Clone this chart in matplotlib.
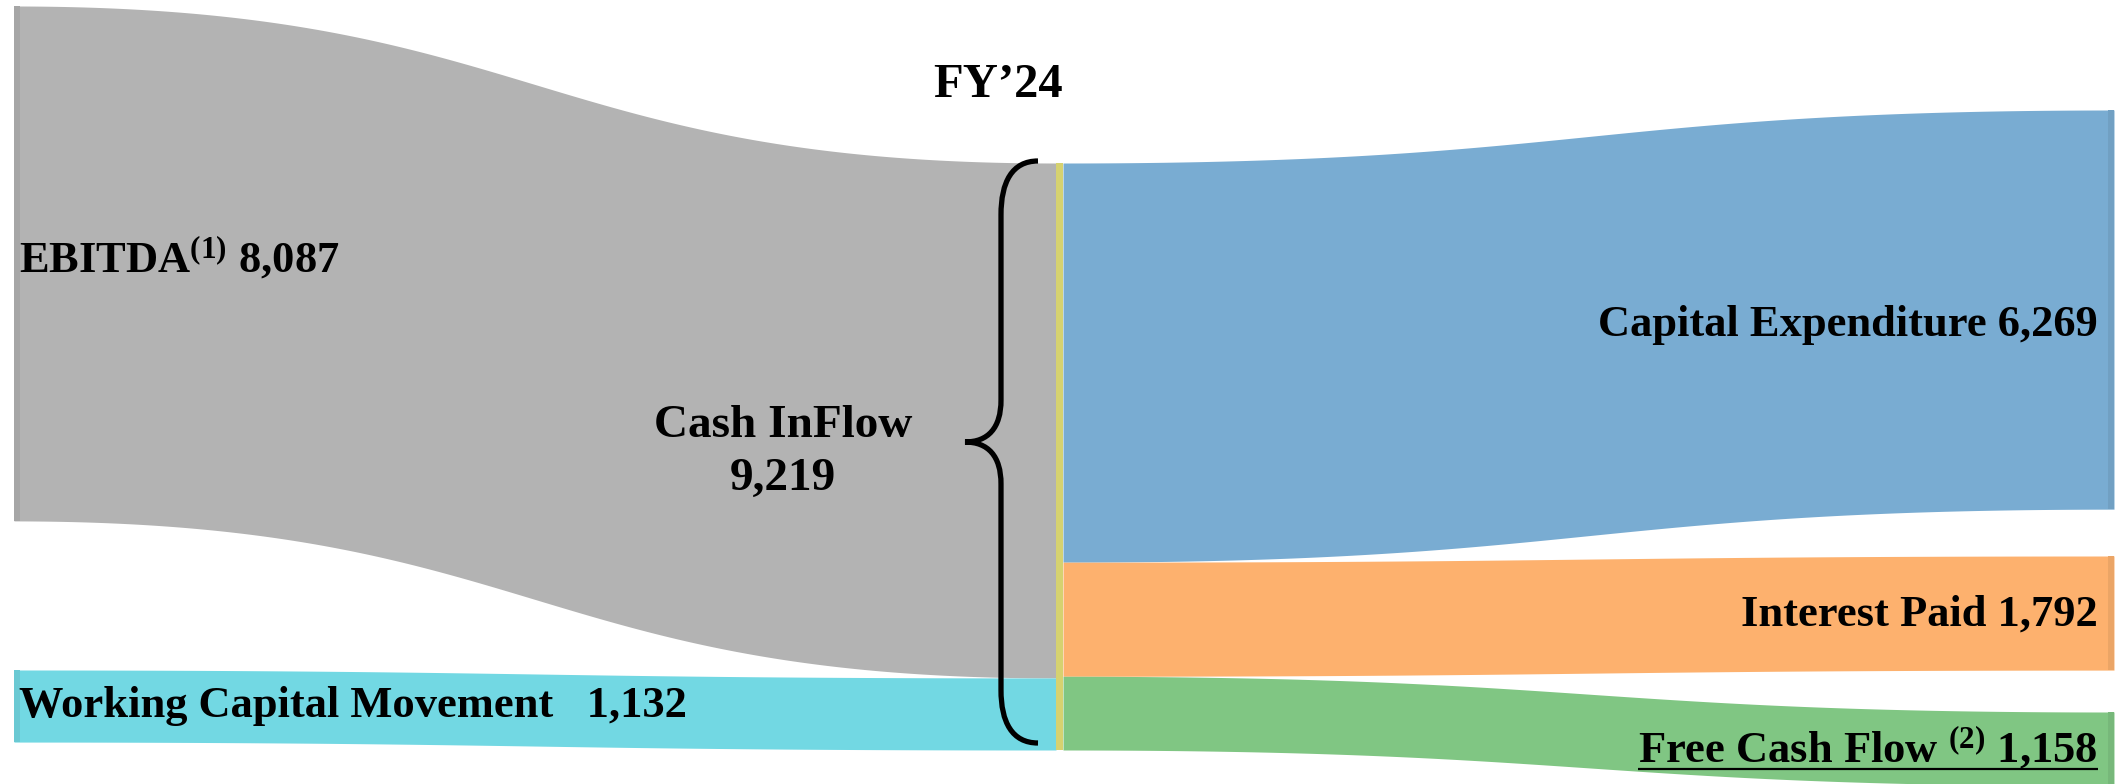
import numpy as np
import matplotlib
matplotlib.use('Agg')
import matplotlib.pyplot as plt
from matplotlib.path import Path
from matplotlib.patches import PathPatch

plt.rcParams['font.family'] = ['Liberation Serif', 'DejaVu Serif']
plt.rcParams['mathtext.fontset'] = 'custom'
plt.rcParams['mathtext.rm'] = 'Liberation Serif:bold'
plt.rcParams['mathtext.it'] = 'Liberation Serif:bold'
plt.rcParams['mathtext.bf'] = 'Liberation Serif:bold'
plt.rcParams['mathtext.default'] = 'rm'

# data
period = "FY\u201924"
sources = ['EBITDA', 'Working Capital Movement']
source_values = [8087, 1132]
source_labels = ['EBITDA$^{(1)}$ 8,087', 'Working Capital Movement   1,132']
source_colors = ['#b3b3b3', '#72d8e3']

hub_label = 'Cash InFlow\n9,219'

uses = ['Capital Expenditure', 'Interest Paid', 'Free Cash Flow']
use_values = [6269, 1792, 1158]
use_labels = ['Capital Expenditure 6,269', 'Interest Paid 1,792',
              'Free Cash Flow $^{(2)}$ 1,158']
use_colors = ['#79acd2', '#fdb16e', '#80c683']

# layout (pixel space)
W, H = 2126, 784
x_left, x_mid0, x_mid1, x_right = 14, 1056, 1063, 2114
hub_top = 163
hub_height = 587
scale = hub_height / sum(source_values)
left_tops = [6, 670]
right_tops = [110, 556, 712]


def band(ax, x0, x1, y0, y1, h, color):
    t = np.linspace(0, 1, 300)
    xs = x0 + (x1 - x0) * (1.5 * t * (1 - t) + t ** 3)
    s = 3 * t ** 2 - 2 * t ** 3
    top = y0 + (y1 - y0) * s
    ax.fill_between(xs, top, top + h, color=color, lw=0)


def darker(c, f=0.93):
    rgb = np.array(matplotlib.colors.to_rgb(c)) * f
    return tuple(rgb)


fig = plt.figure(figsize=(W / 100, H / 100), dpi=100)
ax = fig.add_axes([0, 0, 1, 1])
ax.set_xlim(0, W)
ax.set_ylim(H, 0)
ax.axis('off')

# inflows
y = hub_top
for v, top, col in zip(source_values, left_tops, source_colors):
    h = v * scale
    band(ax, x_left, x_mid0, top, y, h, col)
    ax.fill_between([x_left, x_left + 6], top, top + h, color=darker(col), lw=0)
    y += h

# outflows
y = hub_top
for v, top, col in zip(use_values, right_tops, use_colors):
    h = v * scale
    band(ax, x_mid1, x_right, y, top, h, col)
    ax.fill_between([x_right - 6, x_right], top, top + h, color=darker(col), lw=0)
    y += h

# hub node
ax.fill_between([x_mid0, x_mid1], hub_top, hub_top + hub_height, color='#d6d270', lw=0)

# brace
bx, tip, vx = 1038, 965, 1001
by0, bym, by1 = 161, 442, 743
verts = [(bx, by0), (1012, by0), (vx, 182), (vx, 215),
         (vx, 400), (vx, 428), (988, bym), (tip, bym),
         (988, bym), (vx, 456), (vx, 484),
         (vx, 690), (vx, 722), (1012, by1), (bx, by1)]
codes = [Path.MOVETO, Path.CURVE4, Path.CURVE4, Path.CURVE4,
         Path.LINETO, Path.CURVE4, Path.CURVE4, Path.CURVE4,
         Path.CURVE4, Path.CURVE4, Path.CURVE4,
         Path.LINETO, Path.CURVE4, Path.CURVE4, Path.CURVE4]
ax.add_patch(PathPatch(Path(verts, codes), fill=False, lw=3.8, color='black',
                       capstyle='butt'))

fs = 32
ax.text(998, 97, period, ha='center', va='baseline', fontsize=35, fontweight='bold')
ax.text(783, 437, hub_label.split('\n')[0], ha='center', va='baseline',
        fontsize=34, fontweight='bold')
ax.text(783, 490, hub_label.split('\n')[1], ha='center', va='baseline',
        fontsize=34, fontweight='bold')

ax.text(19, 272, source_labels[0], ha='left', va='baseline', fontsize=fs, fontweight='bold')
ax.text(19, 717, source_labels[1], ha='left', va='baseline', fontsize=fs, fontweight='bold')

ax.text(2098, 336, use_labels[0], ha='right', va='baseline', fontsize=fs, fontweight='bold')
ax.text(2098, 626, use_labels[1], ha='right', va='baseline', fontsize=fs, fontweight='bold')
fcf = ax.text(2098, 762, use_labels[2], ha='right', va='baseline', fontsize=fs,
              fontweight='bold')

# underline free cash flow
fig.canvas.draw()
bb = fcf.get_window_extent(fig.canvas.get_renderer())
inv = ax.transData.inverted()
(ux0, _), (ux1, _) = inv.transform([[bb.x0, bb.y0], [bb.x1, bb.y1]])
ax.plot([ux0, ux1], [769, 769], color='black', lw=1.6, solid_capstyle='butt')

fig.savefig('out.png', dpi=100)
